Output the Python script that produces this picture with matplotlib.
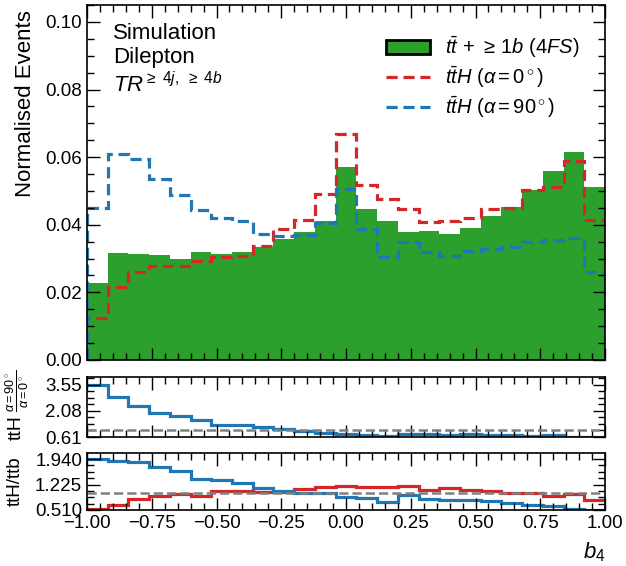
import numpy as np
import matplotlib
matplotlib.use("Agg")
import matplotlib.pyplot as plt
from matplotlib.ticker import MultipleLocator, AutoMinorLocator, FuncFormatter
from matplotlib.patches import Patch
from matplotlib.lines import Line2D

plt.rcParams["font.family"] = ["Liberation Sans", "DejaVu Sans"]
plt.rcParams["mathtext.fontset"] = "custom"
plt.rcParams["mathtext.rm"] = "Liberation Sans"
plt.rcParams["mathtext.it"] = "Liberation Sans:italic"
plt.rcParams["mathtext.bf"] = "Liberation Sans:bold"

# b4 binning: 25 bins in [-1, 1]
edges = np.linspace(-1.0, 1.0, 26)

# normalised shapes
ttb = [0.0228, 0.0316, 0.0315, 0.0311, 0.0299, 0.0318, 0.0315, 0.0318, 0.0333,
       0.0358, 0.0378, 0.0410, 0.0572, 0.0446, 0.0410, 0.0380, 0.0383, 0.0373,
       0.0390, 0.0426, 0.0453, 0.0504, 0.0559, 0.0614, 0.0512]
tth_0 = [0.0124, 0.0217, 0.0259, 0.0279, 0.0279, 0.0292, 0.0304, 0.0308, 0.0336,
         0.0386, 0.0413, 0.0490, 0.0669, 0.0519, 0.0475, 0.0448, 0.0408, 0.0411,
         0.0420, 0.0448, 0.0450, 0.0502, 0.0512, 0.0590, 0.0415]
tth_90 = [0.0449, 0.0610, 0.0594, 0.0534, 0.0488, 0.0445, 0.0421, 0.0410, 0.0373,
          0.0368, 0.0370, 0.0405, 0.0507, 0.0386, 0.0304, 0.0348, 0.0320, 0.0307,
          0.0321, 0.0328, 0.0335, 0.0348, 0.0356, 0.0360, 0.0259]

# ratio alpha=90 / alpha=0
ratio_cp = [3.55, 2.86, 2.37, 1.94, 1.79, 1.55, 1.30, 1.26, 1.16, 1.08, 0.94, 0.86,
            0.76, 0.74, 0.64, 0.78, 0.78, 0.75, 0.76, 0.73, 0.74, 0.69, 0.70, 0.61, 0.62]
# ratios ttH / ttb
ratio_0 = [0.53, 0.66, 0.81, 0.90, 0.96, 0.91, 1.04, 1.04, 1.01, 1.01, 1.10, 1.15,
           1.185, 1.17, 1.16, 1.185, 1.07, 1.12, 1.07, 1.05, 0.995, 0.985, 0.91, 0.96, 0.80]
ratio_90 = [1.94, 1.90, 1.86, 1.71, 1.61, 1.385, 1.34, 1.28, 1.12, 1.04, 0.985, 0.985,
            0.88, 0.85, 0.74, 0.93, 0.81, 0.80, 0.80, 0.755, 0.72, 0.66, 0.61, 0.55, 0.51]

GREEN = "#2ca02c"
RED = "#d62728"
BLUE = "#1f77b4"
DASH = (0, (3.5, 1.8))

W, H = 626, 566
fig = plt.figure(figsize=(W / 100, H / 100), dpi=100)


def box(left, top, right, bottom):
    return [left / W, 1 - bottom / H, (right - left) / W, (bottom - top) / H]


def fmt(digits):
    return FuncFormatter(lambda v, _: f"{v:.{digits}f}".replace("-", "\u2212"))


ax = fig.add_axes(box(87, 5, 605, 360))
ax_r1 = fig.add_axes(box(87, 377, 605, 437), sharex=ax)
ax_r2 = fig.add_axes(box(87, 453, 605, 510), sharex=ax)

# main panel
ax.stairs(ttb, edges, fill=True, color=GREEN, lw=0)
ax.stairs(tth_0, edges, baseline=0, color=RED, lw=2.3, ls=DASH)
ax.stairs(tth_90, edges, baseline=0, color=BLUE, lw=2.3, ls=DASH)
ax.set_xlim(-1, 1)
ax.set_ylim(0, 0.105)
ax.yaxis.set_major_locator(MultipleLocator(0.02))
ax.yaxis.set_minor_locator(MultipleLocator(0.005))
ax.yaxis.set_major_formatter(fmt(2))
ax.set_ylabel("Normalised Events", fontsize=16, loc="top")
ax.yaxis.set_label_coords(-0.098, 0.985)

ax.text(0.05, 0.92, "Simulation", transform=ax.transAxes, fontsize=16, va="center")
ax.text(0.05, 0.851, "Dilepton", transform=ax.transAxes, fontsize=16, va="center")
ax.text(0.05, 0.775, r"$TR^{\geq\ 4j,\ \geq\ 4b}$", transform=ax.transAxes,
        fontsize=16, va="center")

handles = [
    Patch(facecolor=GREEN, edgecolor="black", lw=2),
    Line2D([], [], color=RED, lw=2.3, ls=DASH),
    Line2D([], [], color=BLUE, lw=2.3, ls=DASH),
]
labels = [r"$t\bar{t}\,+\,\geq\,1b\ (4FS)$",
          r"$t\bar{t}H\ (\alpha = 0^\circ)$",
          r"$t\bar{t}H\ (\alpha = 90^\circ)$"]
ax.legend(handles, labels, loc="upper left", bbox_to_anchor=(0.578, 0.918),
          frameon=False, fontsize=14.5, handlelength=2.15, handleheight=0.75,
          labelspacing=0.2, handletextpad=0.75, borderaxespad=0, borderpad=0)

# CP ratio panel
ax_r1.stairs(ratio_cp, edges, baseline=None, color=BLUE, lw=2.3)
ax_r1.axhline(1.0, color="gray", ls="--", lw=1.8)
lo, hi = min(ratio_cp), max(ratio_cp)
ax_r1.set_ylim(lo, hi + 0.15 * (hi - lo))
ax_r1.set_yticks([lo, (lo + hi) / 2, hi])
ax_r1.yaxis.set_major_formatter(fmt(2))
ax_r1.set_ylabel("ttH", fontsize=14)
ax_r1.yaxis.set_label_coords(-0.12, 0.15)
fig.text(17 / W, 1 - 391 / H, r"$\frac{\alpha = 90^\circ}{\alpha = 0^\circ}$",
         rotation=90, fontsize=13, ha="center", va="center")

# signal / background ratio panel
ax_r2.stairs(ratio_0, edges, baseline=None, color=RED, lw=2.3)
ax_r2.stairs(ratio_90, edges, baseline=None, color=BLUE, lw=2.3)
ax_r2.axhline(1.0, color="gray", ls="--", lw=1.8)
lo2 = min(min(ratio_0), min(ratio_90))
hi2 = max(max(ratio_0), max(ratio_90))
ax_r2.set_ylim(lo2, hi2 + 0.12 * (hi2 - lo2))
ax_r2.set_yticks([lo2, (lo2 + hi2) / 2, hi2])
ax_r2.yaxis.set_major_formatter(fmt(3))
ax_r2.set_ylabel("ttH/ttb", fontsize=13.5)
ax_r2.yaxis.set_label_coords(-0.122, 0.5)

ax_r2.xaxis.set_major_locator(MultipleLocator(0.25))
ax_r2.xaxis.set_minor_locator(MultipleLocator(0.05))
ax_r2.xaxis.set_major_formatter(fmt(2))
ax_r2.set_xlabel(r"$b_4$", fontsize=16, loc="right", labelpad=6)

for a in (ax, ax_r1, ax_r2):
    a.tick_params(which="both", direction="in", top=True, right=True, labelsize=13.5)
    a.tick_params(which="major", length=9, width=1)
    a.tick_params(which="minor", length=5, width=1)
    for s in a.spines.values():
        s.set_linewidth(1.2)
for a in (ax_r1, ax_r2):
    a.yaxis.set_minor_locator(AutoMinorLocator(4))
for a in (ax, ax_r1):
    a.tick_params(labelbottom=False)

fig.savefig("out.png", dpi=100)
